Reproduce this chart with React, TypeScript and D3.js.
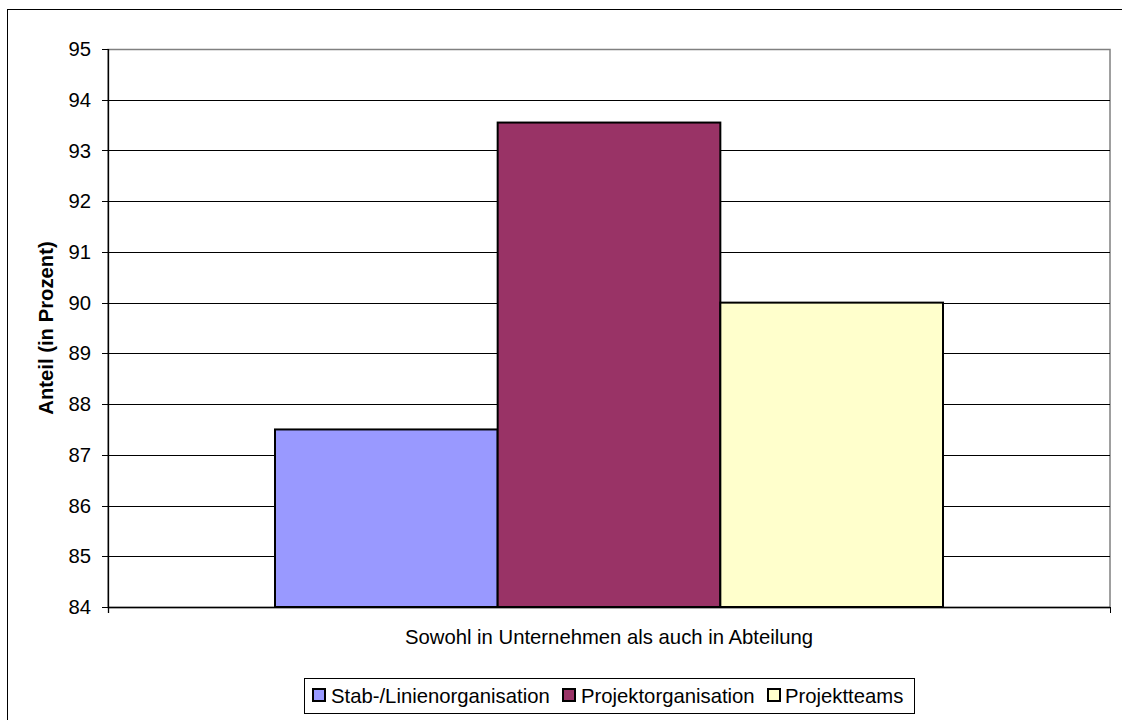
import * as d3 from 'd3';

const categories = ['Sowohl in Unternehmen als auch in Abteilung'];
const seriesNames = ['Stab-/Linienorganisation', 'Projektorganisation', 'Projektteams'];
const seriesValues = [87.5, 93.55, 90.0];
const seriesColors = ['#9999FF', '#993366', '#FFFFCC'];
const yTicks = [84, 85, 86, 87, 88, 89, 90, 91, 92, 93, 94, 95];

const W = 1122;
const H = 720;
const plot = { left: 108, right: 1110, top: 49, bottom: 607 };
const font = 'Arial, "Liberation Sans", sans-serif';
const fs = 20.3;

const Label = ({ x, y, anchor = 'start', rotate = 0, bold = false, dy = '0', children }) => (
  <text
    transform={`translate(${x},${y}) rotate(${rotate})`}
    textAnchor={anchor}
    dy={dy}
    fontSize={fs}
    fontWeight={bold ? 'bold' : 'normal'}
    fill="#000"
  >
    {children}
  </text>
);

export default function App() {
  const y = d3.scaleLinear().domain([84, 95]).range([plot.bottom, plot.top]);
  const x0 = d3.scaleBand().domain(categories).range([plot.left, plot.right]);
  const x1 = d3
    .scaleBand()
    .domain(seriesNames)
    .range([0, x0.bandwidth()])
    .paddingOuter(0.75)
    .paddingInner(0);

  // legend layout
  const legendItems = [
    { x: 313, tx: 331 },
    { x: 563, tx: 581 },
    { x: 768, tx: 785 },
  ];

  return (
    <svg
      width={W}
      height={H}
      style={{ position: 'absolute', left: 0, top: 0, background: '#fff' }}
      fontFamily={font}
    >
      {/* outer chart border */}
      <rect x={7.5} y={9.5} width={1120} height={720} fill="#fff" stroke="#000" strokeWidth={1} />

      {/* plot area border */}
      <rect
        x={plot.left}
        y={plot.top + 0.5}
        width={plot.right - plot.left}
        height={plot.bottom - plot.top}
        fill="#fff"
        stroke="#808080"
        strokeWidth={1.5}
      />

      {/* gridlines */}
      {yTicks.slice(1, -1).map((t) => (
        <line
          key={t}
          x1={plot.left}
          x2={plot.right}
          y1={Math.round(y(t)) + 0.5}
          y2={Math.round(y(t)) + 0.5}
          stroke="#000"
          strokeWidth={1}
        />
      ))}

      {/* bars */}
      {categories.map((c) => (
        <g key={c} transform={`translate(${x0(c)},0)`}>
          {seriesNames.map((s, i) => (
            <rect
              key={s}
              x={x1(s)}
              y={y(seriesValues[i])}
              width={x1.bandwidth()}
              height={plot.bottom - y(seriesValues[i])}
              fill={seriesColors[i]}
              stroke="#000"
              strokeWidth={2}
            />
          ))}
        </g>
      ))}

      {/* y axis */}
      <line x1={plot.left + 0.5} x2={plot.left + 0.5} y1={plot.top} y2={plot.bottom + 6} stroke="#000" strokeWidth={1.3} />
      {yTicks.map((t) => (
        <g key={t}>
          <line
            x1={plot.left - 6}
            x2={plot.left}
            y1={Math.round(y(t)) + 0.5}
            y2={Math.round(y(t)) + 0.5}
            stroke="#000"
          />
          <Label x={91} y={y(t)} anchor="end" dy="0.35em">
            {t}
          </Label>
        </g>
      ))}

      {/* x axis */}
      <line x1={plot.left} x2={plot.right} y1={plot.bottom + 0.5} y2={plot.bottom + 0.5} stroke="#000" strokeWidth={1.5} />
      <line x1={plot.right + 0.5} x2={plot.right + 0.5} y1={plot.bottom} y2={plot.bottom + 6} stroke="#000" />
      {categories.map((c) => (
        <Label key={c} x={(x0(c) ?? 0) + x0.bandwidth() / 2} y={644} anchor="middle">
          {c}
        </Label>
      ))}

      {/* y title */}
      <Label x={53} y={(plot.top + plot.bottom) / 2} anchor="middle" rotate={-90} bold>
        Anteil (in Prozent)
      </Label>

      {/* legend */}
      <rect x={304.5} y={678.5} width={610} height={35} fill="#fff" stroke="#000" strokeWidth={1} />
      {seriesNames.map((s, i) => (
        <g key={s}>
          <rect
            x={legendItems[i].x}
            y={689}
            width={12}
            height={12}
            fill={seriesColors[i]}
            stroke="#000"
            strokeWidth={2}
          />
          <Label x={legendItems[i].tx} y={703}>
            {s}
          </Label>
        </g>
      ))}
    </svg>
  );
}
